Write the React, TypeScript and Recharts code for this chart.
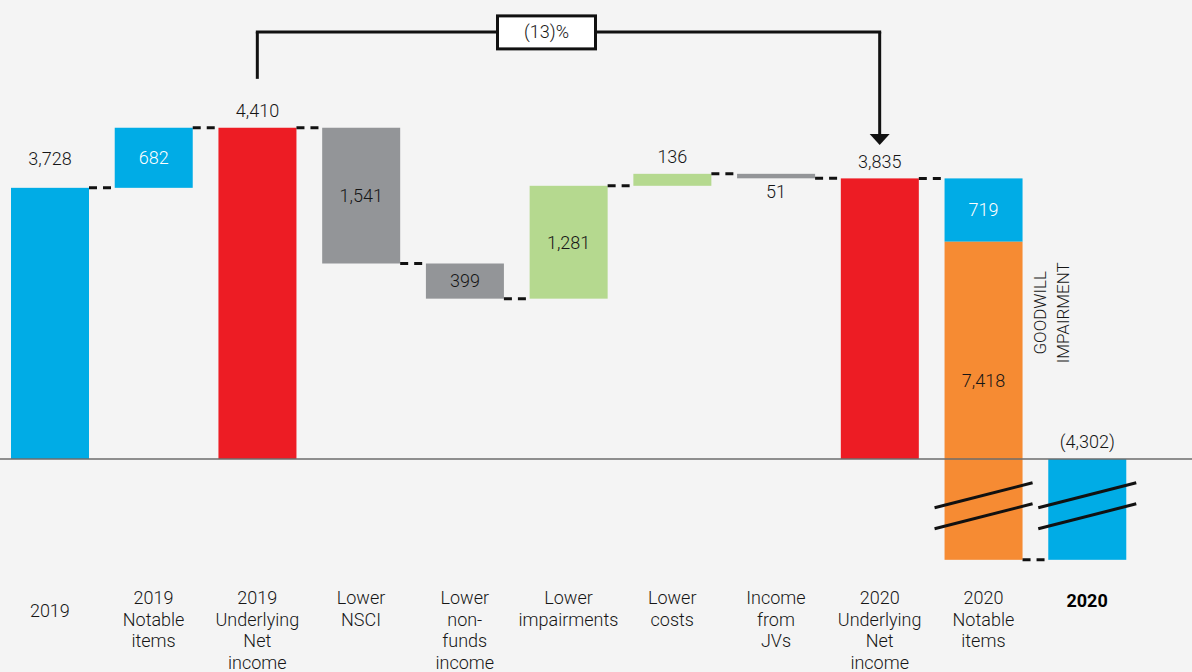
import { Bar, BarChart, ReferenceLine, XAxis, YAxis } from 'recharts'

const BLUE = '#00ace6'
const RED = '#ed1c24'
const GRAY = '#939598'
const GREEN = '#b5d98f'
const ORANGE = '#f68b33'
const INK = '#161616'
const BG = '#f4f4f4'
const FONT = "Roboto, 'Liberation Sans', Arial, sans-serif"
const WEIGHT = 300

// --- data ---
const categories = [
  '2019',
  '2019\nNotable\nitems',
  '2019\nUnderlying\nNet\nincome',
  'Lower\nNSCI',
  'Lower\nnon-\nfunds\nincome',
  'Lower\nimpairments',
  'Lower\ncosts',
  'Income\nfrom\nJVs',
  '2020\nUnderlying\nNet\nincome',
  '2020\nNotable\nitems',
  '2020',
]
const kinds = ['total', 'step', 'total', 'step', 'step', 'step', 'step', 'step', 'total', 'step', 'total']
const amounts = [3728, 682, 4410, -1541, -399, 1281, 136, -51, 3835, -719, -4302]
// 2020 notable items split: goodwill impairment part
const goodwill = [0, 0, 0, 0, 0, 0, 0, 0, 0, -7418, 0]
const changeLabel = '(13)%'
const goodwillLabel = ['GOODWILL', 'IMPAIRMENT']

// --- style ---
const barColors = [BLUE, BLUE, RED, GRAY, GRAY, GREEN, GREEN, GRAY, RED, BLUE, BLUE]
const labelModes = ['above', 'inside', 'above', 'inside', 'inside', 'inside', 'above', 'below', 'above', 'inside', 'above']
const labelLift = [12, 0, 0, 0, 0, 0, 0, 0, 0, 0, 0]

// layout
const WIDTH = 1195
const HEIGHT = 672
const AXIS_H = 102
const PAD_RIGHT = 54
const BAR = 78
const BAND = (WIDTH - PAD_RIGHT) / categories.length
const GAP = BAND - BAR

// broken axis: lowest part of the positive bars is cut away, negative side is squeezed
const HIDDEN = 650
const NEG_SCALE = 0.266
const axisValue = (v: number) => (v >= 0 ? Math.max(v - HIDDEN, 0) : v * NEG_SCALE)

const fmt = (n: number) => Math.abs(n).toLocaleString('en-US')

interface Seg {
  fill: string
  end: 'top' | 'bottom' | null
  broken: boolean
  text: string
  mode: string
  lift: number
  textColor: string
  goodwill?: boolean
}

function buildRows() {
  let run = 0
  return categories.map((name, i) => {
    let lo: number
    let hi: number
    if (kinds[i] === 'total') {
      lo = 0
      hi = amounts[i]
    } else {
      lo = run
      hi = run + amounts[i]
    }
    run = hi
    const last = i === categories.length - 1
    const up = hi > lo
    const mode = labelModes[i]
    const row: any = {
      name,
      mainRange: [axisValue(Math.min(lo, hi)), axisValue(Math.max(lo, hi))],
      mainSeg: {
        fill: barColors[i],
        end: last || goodwill[i] ? null : up ? 'top' : 'bottom',
        broken: Math.min(lo, hi) < 0,
        text: kinds[i] === 'total' && amounts[i] < 0 ? `(${fmt(amounts[i])})` : fmt(amounts[i]),
        mode,
        lift: labelLift[i],
        textColor: mode === 'inside' && barColors[i] === BLUE ? '#ffffff' : INK,
      } as Seg,
    }
    if (goodwill[i]) {
      const lo2 = run
      const hi2 = run + goodwill[i]
      run = hi2
      row.extraRange = [axisValue(Math.min(lo2, hi2)), axisValue(Math.max(lo2, hi2))]
      row.extraSeg = {
        fill: ORANGE,
        end: hi2 > lo2 ? 'top' : 'bottom',
        broken: Math.min(lo2, hi2) < 0,
        text: fmt(goodwill[i]),
        mode: 'inside',
        lift: 20,
        textColor: INK,
        goodwill: true,
      } as Seg
    }
    return row
  })
}

const rows = buildRows()

// bracket levels (axis units)
const BRACKET_TOP = axisValue(amounts[2]) + 1088
const BRACKET_FOOT = axisValue(amounts[2]) + 555
const ARROW_TIP = axisValue(amounts[8]) + 380

function renderPiece(props: any, key: 'mainSeg' | 'extraSeg') {
  const { x, y, width, height, payload } = props
  const seg: Seg | undefined = payload?.[key]
  if (!seg || width == null) return <g />
  const top = Math.min(y, y + height)
  const bottom = Math.max(y, y + height)
  const right = x + width
  const cx = x + width / 2
  const lvl = seg.end === 'top' ? top : bottom
  let ly = (top + bottom) / 2
  if (seg.mode === 'above') ly = top - 17
  if (seg.mode === 'below') ly = bottom + 13
  ly -= seg.lift
  return (
    <g>
      <rect x={x} y={top} width={width} height={Math.max(bottom - top, 0)} fill={seg.fill} />
      {seg.end && (
        <line x1={right} x2={right + GAP} y1={lvl} y2={lvl} stroke="#111" strokeWidth={3} strokeDasharray="8 6" />
      )}
      {seg.broken && (
        <g stroke="#111" strokeWidth={3}>
          <line x1={x - 10} y1={bottom - 52} x2={right + 10} y2={bottom - 77} />
          <line x1={x - 10} y1={bottom - 31} x2={right + 10} y2={bottom - 56} />
        </g>
      )}
      <text
        x={cx}
        y={ly}
        dy="0.35em"
        textAnchor="middle"
        fontSize={18}
        fontFamily={FONT}
        fontWeight={WEIGHT}
        fill={seg.textColor}
      >
        {seg.text}
      </text>
      {seg.goodwill &&
        goodwillLabel.map((t, i) => {
          const tx = right + 23 + i * 23
          const ty = top + 71
          return (
            <text
              key={t}
              x={tx}
              y={ty}
              transform={`rotate(-90, ${tx}, ${ty})`}
              textAnchor="middle"
              fontSize={17}
              fontFamily={FONT}
              fontWeight={WEIGHT}
              fill={INK}
            >
              {t}
            </text>
          )
        })}
    </g>
  )
}

function CategoryTick(props: any) {
  const { x, y, payload, index } = props
  const lines = String(payload.value).split('\n')
  const bold = index === categories.length - 1
  const first = index === 0 ? 47 : bold ? 37 : 34
  return (
    <text
      x={x}
      y={y + first}
      textAnchor="middle"
      fill={bold ? '#000000' : INK}
      fontSize={18}
      fontFamily={FONT}
      fontWeight={bold ? 700 : WEIGHT}
    >
      {lines.map((l, i) => (
        <tspan key={i} x={x} dy={i === 0 ? 0 : 21.5}>
          {l}
        </tspan>
      ))}
    </text>
  )
}

function BracketTop(props: any) {
  const { x1, x2, y1 } = props
  const bx = (x1 + x2) / 2 - 22
  return (
    <g>
      <line x1={x1 - 1.5} x2={x2 + 1.5} y1={y1} y2={y1} stroke="#111" strokeWidth={3} />
      <rect x={bx - 49} y={y1 - 16} width={98} height={33} fill="#ffffff" stroke="#111" strokeWidth={3} />
      <text
        x={bx}
        y={y1}
        dy="0.35em"
        textAnchor="middle"
        fontSize={18}
        fontFamily={FONT}
        fontWeight={WEIGHT}
        fill={INK}
      >
        {changeLabel}
      </text>
    </g>
  )
}

function BracketArrow(props: any) {
  const { x1, y1, y2 } = props
  return (
    <g>
      <line x1={x1} x2={x1} y1={y1} y2={y2 - 10} stroke="#111" strokeWidth={3} />
      <polygon points={`${x1 - 10},${y2 - 11} ${x1 + 10},${y2 - 11} ${x1},${y2}`} fill="#111" />
    </g>
  )
}

function BracketLeg(props: any) {
  const { x1, y1, y2 } = props
  return <line x1={x1} x2={x1} y1={y1} y2={y2} stroke="#111" strokeWidth={3} />
}

export default function App() {
  return (
    <div style={{ position: 'absolute', left: 0, top: 0, width: 1192, height: 672, background: BG, overflow: 'hidden' }}>
      <div style={{ marginLeft: -2 }}>
        <BarChart
          width={WIDTH}
          height={HEIGHT}
          data={rows}
          margin={{ top: 0, right: 0, bottom: 0, left: 0 }}
          barGap={-BAR}
        >
          <XAxis
            dataKey="name"
            interval={0}
            axisLine={false}
            tickLine={false}
            tickSize={0}
            tickMargin={0}
            height={AXIS_H}
            padding={{ left: 0, right: PAD_RIGHT }}
            tick={(p: any) => <CategoryTick {...p} />}
          />
          <YAxis hide domain={[-1260, 5210]} allowDataOverflow />
          <Bar dataKey="mainRange" barSize={BAR} isAnimationActive={false} shape={(p: any) => renderPiece(p, 'mainSeg')} />
          <Bar dataKey="extraRange" barSize={BAR} isAnimationActive={false} shape={(p: any) => renderPiece(p, 'extraSeg')} />
          <ReferenceLine y={0} stroke="#6d6d6d" strokeWidth={1.5} />
          <ReferenceLine
            ifOverflow="visible"
            segment={[
              { x: categories[2], y: BRACKET_FOOT },
              { x: categories[2], y: BRACKET_TOP },
            ]}
            shape={(p: any) => <BracketLeg {...p} />}
          />
          <ReferenceLine
            ifOverflow="visible"
            segment={[
              { x: categories[8], y: BRACKET_TOP },
              { x: categories[8], y: ARROW_TIP },
            ]}
            shape={(p: any) => <BracketArrow {...p} />}
          />
          <ReferenceLine
            ifOverflow="visible"
            segment={[
              { x: categories[2], y: BRACKET_TOP },
              { x: categories[8], y: BRACKET_TOP },
            ]}
            shape={(p: any) => <BracketTop {...p} />}
          />
        </BarChart>
      </div>
    </div>
  )
}
